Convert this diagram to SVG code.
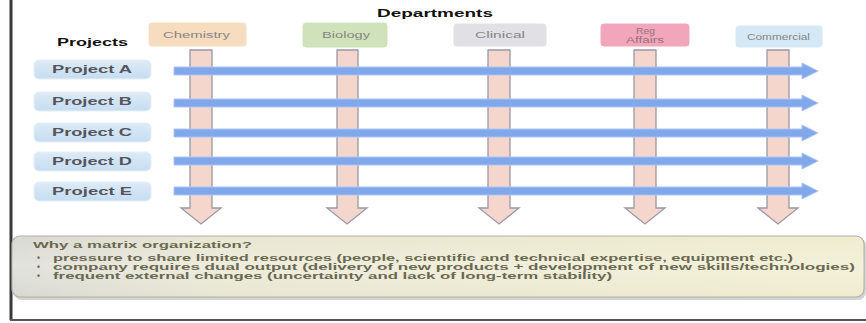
<svg xmlns="http://www.w3.org/2000/svg" width="866" height="323" viewBox="0 0 866 323">
<defs>
<linearGradient id="noteFill" x1="0" y1="0" x2="1" y2="0">
<stop offset="0" stop-color="#d9d9d3"/>
<stop offset="0.25" stop-color="#e9e7d2"/>
<stop offset="1" stop-color="#efecce"/>
</linearGradient>
<linearGradient id="noteShade" x1="0" y1="0" x2="0" y2="1">
<stop offset="0" stop-color="#ffffff" stop-opacity="0.0"/>
<stop offset="0.5" stop-color="#ffffff" stop-opacity="0.25"/>
<stop offset="1" stop-color="#ffffff" stop-opacity="0.0"/>
</linearGradient>
<linearGradient id="projFill" x1="0" y1="0" x2="0" y2="1">
<stop offset="0" stop-color="#dcebf7"/>
<stop offset="1" stop-color="#c6ddf0"/>
</linearGradient>
<style>
.frame{stroke:#3a3a3a;stroke-width:3;fill:none}
.hdr{font-family:"Liberation Sans",Arial,sans-serif;font-weight:bold;fill:#111}
.dept rect{stroke:#ffffff;stroke-width:1}
.dept text{font-family:"Liberation Sans",Arial,sans-serif;font-size:8.5px;fill:#858585}
.proj rect{fill:url(#projFill);stroke:#e6f0f8;stroke-width:1}
.proj text{font-family:"Liberation Sans",Arial,sans-serif;font-weight:bold;font-size:10px;fill:#55555d}
.varr{fill:#f4d6cc;stroke:#9a98a8;stroke-width:1.3}
.harr{fill:#82a8ec;stroke:#abc5f3;stroke-width:1}
.note text{font-family:"Liberation Sans",Arial,sans-serif;font-weight:bold;font-size:8.5px;fill:#6a6950}
</style>
</defs>
<rect width="866" height="323" fill="#ffffff"/>
<line class="frame" x1="11" y1="0" x2="11" y2="320"/>
<line class="frame" x1="10" y1="320" x2="866" y2="320" style="stroke:#555;stroke-width:2"/>

<text class="hdr" x="377" y="17" font-size="11" textLength="116" lengthAdjust="spacingAndGlyphs">Departments</text>
<text class="hdr" x="57" y="46" font-size="11" textLength="71" lengthAdjust="spacingAndGlyphs">Projects</text>

<g id="dept-chemistry" class="dept">
<rect x="148" y="22" width="99" height="25" rx="4" fill="#f8dcc0"/>
<text x="163" y="38" textLength="67" lengthAdjust="spacingAndGlyphs">Chemistry</text>
</g>
<g id="dept-biology" class="dept">
<rect x="302" y="22" width="86" height="26" rx="4" fill="#d0e2b9"/>
<text x="322" y="38" textLength="48" lengthAdjust="spacingAndGlyphs">Biology</text>
</g>
<g id="dept-clinical" class="dept">
<rect x="453" y="23" width="94" height="24" rx="4" fill="#e1e0e4"/>
<text x="475" y="38" textLength="50" lengthAdjust="spacingAndGlyphs">Clinical</text>
</g>
<g id="dept-reg" class="dept">
<rect x="600" y="23" width="90" height="24" rx="4" fill="#f2a6bb"/>
<text x="636" y="34" textLength="19" lengthAdjust="spacingAndGlyphs" style="fill:#98707e">Reg</text>
<text x="626" y="43" textLength="38" lengthAdjust="spacingAndGlyphs" style="fill:#98707e">Affairs</text>
</g>
<g id="dept-commercial" class="dept">
<rect x="735" y="25" width="88" height="23" rx="4" fill="#d4e9f5"/>
<text x="747" y="40" textLength="63" lengthAdjust="spacingAndGlyphs">Commercial</text>
</g>

<g id="proj-a" class="proj">
<rect x="34" y="60" width="117" height="19" rx="5"/>
<text x="52" y="73" textLength="80" lengthAdjust="spacingAndGlyphs">Project A</text>
</g>
<g id="proj-b" class="proj">
<rect x="34" y="92" width="117" height="19" rx="5"/>
<text x="52" y="105" textLength="80" lengthAdjust="spacingAndGlyphs">Project B</text>
</g>
<g id="proj-c" class="proj">
<rect x="34" y="123" width="117" height="19" rx="5"/>
<text x="52" y="136" textLength="80" lengthAdjust="spacingAndGlyphs">Project C</text>
</g>
<g id="proj-d" class="proj">
<rect x="34" y="152" width="117" height="19" rx="5"/>
<text x="52" y="165" textLength="80" lengthAdjust="spacingAndGlyphs">Project D</text>
</g>
<g id="proj-e" class="proj">
<rect x="34" y="182" width="117" height="19" rx="5"/>
<text x="52" y="195" textLength="80" lengthAdjust="spacingAndGlyphs">Project E</text>
</g>

<g id="connectors">
<polygon class="varr" points="190,50 212,50 212,208 221,208 201,224 181,208 190,208"/>
<polygon class="varr" points="337,50 358,50 358,208 367,208 347,224 327,208 337,208"/>
<polygon class="varr" points="488,50 510,50 510,208 519,208 499,224 479,208 488,208"/>
<polygon class="varr" points="634,50 656,50 656,208 665,208 645,224 625,208 634,208"/>
<polygon class="varr" points="767,50 789,50 789,208 798,208 778,224 758,208 767,208"/>
<polygon class="harr" points="174,67 802,67 802,63 818,71 802,79 802,75 174,75"/>
<polygon class="harr" points="174,99 802,99 802,95 818,103 802,111 802,107 174,107"/>
<polygon class="harr" points="174,129 802,129 802,125 818,133 802,141 802,137 174,137"/>
<polygon class="harr" points="174,157 802,157 802,153 818,161 802,169 802,165 174,165"/>
<polygon class="harr" points="174,187 802,187 802,183 818,191 802,199 802,195 174,195"/>
</g>

<g id="note" class="note">
<rect x="14" y="238" width="852" height="62" rx="8" fill="#b8b8b4" opacity="0.6"/>
<rect x="12" y="236" width="852" height="61" rx="8" fill="url(#noteFill)" stroke="#b0b0a8" stroke-width="1.2"/>
<rect x="12" y="236" width="852" height="61" rx="8" fill="url(#noteShade)"/>
<text x="33" y="248" textLength="219" lengthAdjust="spacingAndGlyphs">Why a matrix organization?</text>
<text x="37" y="261">•</text>
<text x="53" y="261" textLength="740" lengthAdjust="spacingAndGlyphs">pressure to share limited resources (people, scientific and technical expertise, equipment etc.)</text>
<text x="37" y="270">•</text>
<text x="53" y="270" textLength="802" lengthAdjust="spacingAndGlyphs">company requires dual output (delivery of new products + development of new skills/technologies)</text>
<text x="37" y="279">•</text>
<text x="53" y="279" textLength="559" lengthAdjust="spacingAndGlyphs">frequent external changes (uncertainty and lack of long-term stability)</text>
</g>
</svg>
